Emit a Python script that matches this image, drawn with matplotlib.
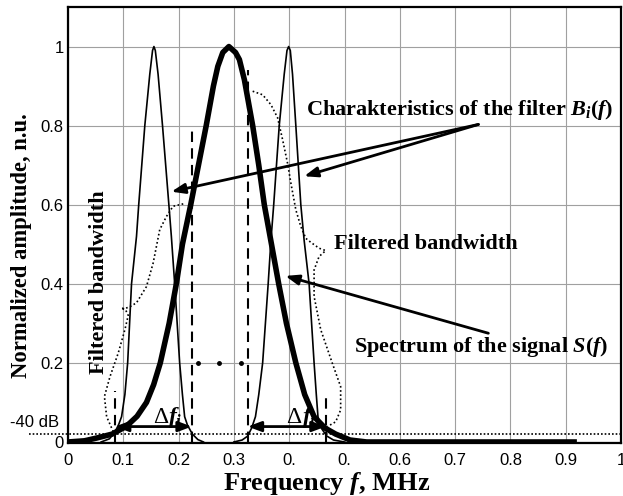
import matplotlib
matplotlib.use("Agg")
import matplotlib.pyplot as plt
import matplotlib.transforms as mtransforms

plt.rcParams['mathtext.fontset'] = 'custom'
plt.rcParams['mathtext.rm'] = 'Liberation Serif:bold'
plt.rcParams['mathtext.it'] = 'Liberation Serif:italic:bold'
plt.rcParams['mathtext.bf'] = 'Liberation Serif:bold'

# signal spectrum S(f) (thick curve)
sig_f = [0.0, 0.03, 0.052, 0.08, 0.106, 0.125, 0.142, 0.155, 0.167, 0.183, 0.196,
         0.207, 0.222, 0.236, 0.25, 0.263, 0.271, 0.28, 0.291, 0.303, 0.31, 0.319,
         0.334, 0.345, 0.355, 0.368, 0.381, 0.395, 0.412, 0.428, 0.445, 0.465,
         0.484, 0.51, 0.54, 0.92]
sig_a = [0.0, 0.003, 0.01, 0.02, 0.04, 0.065, 0.1, 0.145, 0.2, 0.3, 0.4,
         0.5, 0.6, 0.7, 0.8, 0.9, 0.95, 0.985, 1.0, 0.985, 0.967, 0.916,
         0.8, 0.7, 0.6, 0.5, 0.4, 0.3, 0.2, 0.12, 0.064, 0.035,
         0.02, 0.005, 0.0, 0.0]

# filter characteristics B_i(f)
b1_f = [0.06, 0.075, 0.085, 0.092, 0.097, 0.103, 0.108, 0.115, 0.124, 0.128, 0.139,
        0.148, 0.153, 0.1555, 0.158, 0.163, 0.171, 0.1825, 0.187, 0.193, 0.202,
        0.207, 0.211, 0.216, 0.225, 0.235, 0.245]
b1_a = [0.0, 0.008, 0.025, 0.045, 0.064, 0.12, 0.2, 0.4, 0.52, 0.6, 0.8,
        0.93, 0.99, 1.0, 0.99, 0.93, 0.8, 0.6, 0.52, 0.4, 0.2,
        0.12, 0.064, 0.043, 0.02, 0.006, 0.0]
b2_f = [0.30, 0.315, 0.325, 0.332, 0.339, 0.345, 0.352, 0.362, 0.367, 0.372, 0.382,
        0.391, 0.396, 0.399, 0.402, 0.406, 0.412, 0.421, 0.427, 0.436, 0.445,
        0.449, 0.452, 0.458, 0.468, 0.48, 0.50]
b2_a = [0.0, 0.005, 0.015, 0.035, 0.064, 0.12, 0.2, 0.4, 0.51, 0.6, 0.8,
        0.93, 0.99, 1.0, 0.99, 0.93, 0.8, 0.6, 0.51, 0.4, 0.2,
        0.12, 0.064, 0.035, 0.015, 0.005, 0.0]

# filtered bandwidth (dotted outline), two pieces
fb1_f = [0.082, 0.07, 0.066, 0.076, 0.091, 0.103, 0.109, 0.104, 0.096, 0.104,
         0.112, 0.124, 0.142, 0.154, 0.166, 0.178, 0.19, 0.211]
fb1_a = [0.026, 0.064, 0.115, 0.165, 0.225, 0.284, 0.32, 0.335, 0.338, 0.338,
         0.342, 0.352, 0.393, 0.452, 0.537, 0.57, 0.596, 0.603]
fb2_f = [0.334, 0.352, 0.367, 0.379, 0.388, 0.397, 0.403, 0.412, 0.421, 0.43,
         0.439, 0.454, 0.466, 0.454, 0.445, 0.445, 0.457, 0.478, 0.493, 0.493,
         0.484, 0.469]
fb2_a = [0.887, 0.878, 0.853, 0.82, 0.765, 0.705, 0.655, 0.587, 0.545, 0.515,
         0.505, 0.49, 0.484, 0.469, 0.435, 0.368, 0.284, 0.199, 0.14, 0.081,
         0.051, 0.039]

# dashed band edges: position and top
edge_f = [0.085, 0.224, 0.325, 0.466]
edge_top = [0.13, 0.786, 0.94, 0.123]

# delta-f arrows
df_from = [0.085, 0.325]
df_to = [0.224, 0.466]
df_level = 0.039

dots_f = [0.235, 0.273, 0.313]
dots_a = [0.2, 0.2, 0.2]

level_40db = 0.02

xticks = [0, 0.1, 0.2, 0.3, 0.4, 0.5, 0.6, 0.7, 0.8, 0.9, 1.0]
xtick_labels = ['0', '0.1', '0.2', '0.3', '0.', '0.', '0.6', '0.7', '0.8', '0.9', '1']
yticks = [0, 0.2, 0.4, 0.6, 0.8, 1.0]
ytick_labels = ['0', '0.2', '0.4', '0.6', '0.8', '1']

fig = plt.figure(figsize=(6.23, 4.96), dpi=100, facecolor='white')
ax = fig.add_axes([0.109, 0.1065, 0.888, 0.8794])
ax.set_xlim(0, 0.996)
ax.set_ylim(-0.003, 1.1)

ax.set_xticks(xticks)
ax.set_xticklabels(xtick_labels, family='Liberation Sans', fontsize=12)
ax.set_yticks(yticks)
ax.set_yticklabels(ytick_labels, family='Liberation Sans', fontsize=12)
ax.tick_params(length=0)
ax.tick_params(axis='x', pad=7)
ax.tick_params(axis='y', pad=3)
ax.grid(True, color='#a0a0a0', lw=0.8)
ax.set_axisbelow(True)
for s in ax.spines.values():
    s.set_linewidth(1.6)

ax.plot(b1_f, b1_a, color='black', lw=1.2, zorder=3)
ax.plot(b2_f, b2_a, color='black', lw=1.2, zorder=3)
ax.plot(fb1_f, fb1_a, color='black', lw=1.2, ls=(0, (1, 1.5)), zorder=3)
ax.plot(fb2_f, fb2_a, color='black', lw=1.2, ls=(0, (1, 1.5)), zorder=3)
for f, top in zip(edge_f, edge_top):
    ax.plot([f, f], [0, top], color='black', lw=1.5, ls=(0, (5, 3)), zorder=3)
ax.plot(sig_f, sig_a, color='black', lw=4, solid_capstyle='butt', zorder=4)
ax.plot(dots_f, dots_a, 'o', color='black', ms=2.5, zorder=4)

# -40 dB level
trans = mtransforms.blended_transform_factory(ax.transAxes, ax.transData)
ax.plot([-0.07, 1.0], [level_40db, level_40db], color='black', lw=1.2,
        ls=(0, (1, 1.2)), transform=trans, clip_on=False, zorder=3)
ax.text(-0.015, 0.05, '-40 dB', transform=trans, ha='right', va='center',
        family='Liberation Sans', fontsize=12)

arrow_kw = dict(arrowstyle='-|>,head_length=0.8,head_width=0.3', color='black', lw=2)
for a, b in zip(df_from, df_to):
    ax.annotate('', xy=(b, df_level), xytext=(a, df_level),
                arrowprops=dict(arrowstyle='<|-|>,head_length=0.8,head_width=0.3',
                                color='black', lw=2, shrinkA=0, shrinkB=0), zorder=5)
    ax.text((a + b) / 2 + 0.027, 0.063, 'Δ', ha='right', va='center',
            family='Liberation Serif', fontsize=17)
    ax.text((a + b) / 2 + 0.027, 0.063, r'$f_i$', ha='left', va='center',
            fontsize=17)

# annotations
ax.text(0.43, 0.84, r'Charakteristics of the filter $B_i(f)$', ha='left', va='center',
        family='Liberation Serif', fontweight='bold', fontsize=16)
for tip in [(0.187, 0.633), (0.427, 0.672)]:
    ax.annotate('', xy=tip, xytext=(0.742, 0.803),
                arrowprops=dict(arrow_kw, shrinkA=0, shrinkB=0))
ax.text(0.481, 0.50, 'Filtered bandwidth', ha='left', va='center',
        family='Liberation Serif', fontweight='bold', fontsize=16)
ax.text(0.056, 0.405, 'Filtered bandwidth', ha='center', va='center', rotation=90,
        family='Liberation Serif', fontweight='bold', fontsize=16)
ax.text(0.517, 0.24, r'Spectrum of the signal $S(f)$', ha='left', va='center',
        family='Liberation Serif', fontweight='bold', fontsize=16)
ax.annotate('', xy=(0.393, 0.42), xytext=(0.76, 0.275),
            arrowprops=dict(arrow_kw, shrinkA=0, shrinkB=0))

ax.set_ylabel('Normalized amplitude, n.u.', family='Liberation Serif',
              fontweight='bold', fontsize=16.3, va='center')
ax.yaxis.set_label_coords(-0.083, 0.454)
ax.set_xlabel(r'Frequency $f$, MHz', family='Liberation Serif',
              fontweight='bold', fontsize=19, va='center')
ax.xaxis.set_label_coords(0.467, -0.092)

fig.savefig('out.png', dpi=100, facecolor='white')
